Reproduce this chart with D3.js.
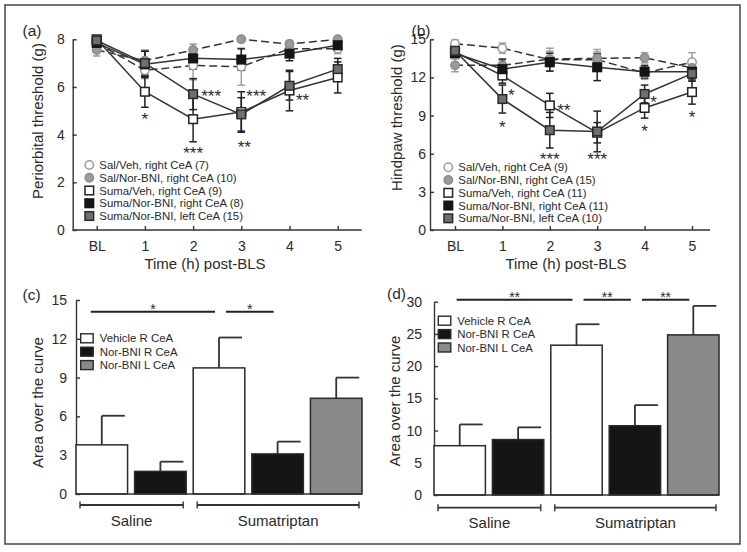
<!DOCTYPE html>
<html>
<head>
<meta charset="utf-8">
<title>Threshold and area over the curve</title>
<style>
  body { margin: 0; background: #fff; }
  svg text { font-family: "Liberation Sans", Arial, sans-serif; font-weight: normal; fill: #2a2a2a; }
</style>
<script src="https://d3js.org/d3.v7.min.js"></script>
</head>
<body>
<svg id="fig" width="747" height="552"></svg>
<script>

// ---- data ----
let timeLabels = ["BL", "1", "2", "3", "4", "5"];

// panel (a) periorbital threshold (g)
let salVehA     = [7.85, 6.7, 6.9, 6.85, 7.6, 7.6];
let salVehAErr  = [0.2, 0.35, 0.6, 0.78, 0.2, 0.2];
let salBniA     = [7.55, 7.1, 7.55, 8.0, 7.8, 8.0];
let salBniAErr  = [0.25, 0.45, 0.25, 0.05, 0.15, 0.08];
let sumaVehA    = [8.0, 5.8, 4.65, 4.95, 5.85, 6.4];
let sumaVehAErr = [0.1, 0.65, 0.95, 0.85, 0.85, 0.65];
let sumaBniRA   = [7.85, 6.95, 7.2, 7.15, 7.4, 7.75];
let sumaBniRAErr= [0.15, 0.55, 0.45, 0.45, 0.3, 0.2];
let sumaBniLA   = [7.95, 7.0, 5.7, 4.85, 6.05, 6.75];
let sumaBniLAErr= [0.1, 0.5, 0.65, 0.7, 0.6, 0.45];
let legendA = ["Sal/Veh, right CeA (7)", "Sal/Nor-BNI, right CeA (10)", "Suma/Veh, right CeA (9)",
               "Suma/Nor-BNI, right CeA (8)", "Suma/Nor-BNI, left CeA (15)"];
// stars: text, time index, level (g), horizontal shift
let starsA = [["*", 1, 4.82, 0], ["***", 2, 5.8, 18], ["***", 2, 3.4, 0],
              ["***", 3, 5.8, 15], ["**", 3, 3.66, 3], ["**", 4, 5.63, 13]];

// panel (b) hindpaw threshold (g)
let salVehB     = [14.65, 14.3, 13.4, 13.4, 12.35, 13.2];
let salVehBErr  = [0.3, 0.4, 0.9, 0.8, 0.5, 0.75];
let salBniB     = [12.95, 12.95, 13.45, 13.5, 13.55, 12.75];
let salBniBErr  = [0.5, 0.4, 0.6, 0.5, 0.4, 0.4];
let sumaVehB    = [14.0, 12.15, 9.8, 7.65, 9.6, 10.85];
let sumaVehBErr = [0.2, 0.6, 0.95, 0.8, 0.8, 0.95];
let sumaBniRB   = [13.9, 12.65, 13.2, 12.8, 12.45, 12.45];
let sumaBniRBErr= [0.2, 0.8, 0.7, 1.05, 0.5, 0.5];
let sumaBniLB   = [14.1, 10.3, 7.85, 7.75, 10.7, 12.3];
let sumaBniLBErr= [0.2, 1.1, 1.4, 1.6, 0.7, 0.6];
let legendB = ["Sal/Veh, right CeA (9)", "Sal/Nor-BNI, right CeA (15)", "Suma/Veh, right CeA (11)",
               "Suma/Nor-BNI, right CeA (11)", "Suma/Nor-BNI, left CeA (10)"];
let starsB = [["*", 1, 10.96, 9], ["*", 1, 8.44, 0], ["**", 2, 9.76, 14], ["***", 2, 5.85, 0],
              ["***", 3, 5.85, 0], ["*", 4, 10.36, 9], ["*", 4, 8.08, 0], ["*", 5, 9.18, 0]];

// panels (c) and (d) area over the curve
let barKeys = ["Sal-Veh", "Sal-BNI-R", "Suma-Veh", "Suma-BNI-R", "Suma-BNI-L"];
let barTreat = [0, 1, 0, 1, 2];
let treatLabels = ["Vehicle R CeA", "Nor-BNI R CeA", "Nor-BNI L CeA"];
let groupLabels = ["Saline", "Sumatriptan"];
let groupSpans = [[0, 1], [2, 4]];
let aocC    = [3.8, 1.75, 9.75, 3.1, 7.4];
let aocCErr = [2.25, 0.75, 2.35, 0.95, 1.6];
let aocD    = [7.65, 8.6, 23.25, 10.75, 24.85];
let aocDErr = [3.3, 1.9, 3.25, 3.2, 4.5];
// significance bars: from bar, to bar, text
let sigC = [[0, 2, "*"], [2, 3, "*"]];
let sigD = [[0, 2, "**"], [2, 3, "**"], [3, 4, "**"]];

// ---- styling ----
let seriesStyle = [
    {shape: "circle", fill: "#fff",    stroke: "#9a9a9a", err: "#a0a0a0", dash: "8,4"},
    {shape: "circle", fill: "#9a9a9a", stroke: "#8a8a8a", err: "#9a9a9a", dash: "8,4"},
    {shape: "square", fill: "#fff",    stroke: "#222",    err: "#222",    dash: null},
    {shape: "square", fill: "#151515", stroke: "#151515", err: "#222",    dash: null},
    {shape: "square", fill: "#6e6e6e", stroke: "#2a2a2a", err: "#222",    dash: null}
];
let barFill = ["#fff", "#151515", "#8a8a8a"];

let svg = d3.select("#fig");

svg.append("rect")
    .attr("x", 5).attr("y", 5).attr("width", 735).attr("height", 539)
    .attr("fill", "none").attr("stroke", "#444").attr("stroke-width", 1.5);

function styleAxis(a, size) {
    a.attr("font-family", null).attr("font-size", null).attr("color", "#333");
    a.selectAll("line, path").attr("stroke-width", 1.4);
    a.selectAll("text").style("font-size", size + "px");
}

function drawMarker(g, st, cx, cy) {
    if (st.shape === "circle") {
        g.append("circle").attr("cx", cx).attr("cy", cy).attr("r", 4.2)
            .attr("fill", st.fill).attr("stroke", st.stroke).attr("stroke-width", 1.5);
    } else {
        g.append("rect").attr("x", cx - 4.3).attr("y", cy - 4.3).attr("width", 8.6).attr("height", 8.6)
            .attr("fill", st.fill).attr("stroke", st.stroke).attr("stroke-width", 1.5);
    }
}

function linePanel(cfg) {
    let x = d3.scalePoint().domain(timeLabels).range(cfg.xr);
    let y = d3.scaleLinear().domain([0, cfg.ymax]).range([230, 39.3]);
    let g = svg.append("g");

    g.append("line")
        .attr("x1", cfg.ax).attr("x2", cfg.axEnd).attr("y1", y(0)).attr("y2", y(0))
        .attr("stroke", "#333").attr("stroke-width", 1.4);
    g.append("g")
        .attr("transform", `translate(0,${y(0)})`)
        .call(d3.axisBottom(x).tickSize(-4).tickPadding(11))
        .call(a => a.select(".domain").remove())
        .call(a => styleAxis(a, 14));
    g.append("g")
        .attr("transform", `translate(${cfg.ax},0)`)
        .call(d3.axisLeft(y).tickValues(cfg.yticks).tickSize(-4).tickSizeOuter(0).tickPadding(cfg.pad))
        .call(a => styleAxis(a, 14));

    let line = d3.line().x((d, i) => x(timeLabels[i])).y(d => y(d));

    // error bars
    cfg.series.forEach((s, k) => {
        let st = seriesStyle[k];
        s.vals.forEach((v, i) => {
            let cx = x(timeLabels[i]), lo = y(v - s.err[i]), hi = y(v + s.err[i]);
            g.append("line").attr("x1", cx).attr("x2", cx).attr("y1", lo).attr("y2", hi)
                .attr("stroke", st.err).attr("stroke-width", 1.5);
            [lo, hi].forEach(yy => g.append("line")
                .attr("x1", cx - 3.8).attr("x2", cx + 3.8).attr("y1", yy).attr("y2", yy)
                .attr("stroke", st.err).attr("stroke-width", 1.5));
        });
    });

    // connecting lines
    cfg.series.forEach((s, k) => {
        g.append("path").datum(s.vals)
            .attr("d", line)
            .attr("fill", "none")
            .attr("stroke", "#333")
            .attr("stroke-width", 1.5)
            .attr("stroke-dasharray", seriesStyle[k].dash);
    });

    // markers
    cfg.series.forEach((s, k) => {
        s.vals.forEach((v, i) => drawMarker(g, seriesStyle[k], x(timeLabels[i]), y(v)));
    });

    // stars
    cfg.stars.forEach(s => {
        g.append("text")
            .attr("x", x(timeLabels[s[1]]) + s[3])
            .attr("y", y(s[2]))
            .attr("dy", "0.58em")
            .attr("text-anchor", "middle")
            .style("font-size", "17px")
            .text(s[0]);
    });

    // legend
    cfg.legend.forEach((t, k) => {
        let ly = cfg.legY + k * 12.75;
        drawMarker(g, seriesStyle[k], cfg.legX, ly);
        g.append("text").attr("x", cfg.legX + 10).attr("y", ly).attr("dy", "0.36em")
            .style("font-size", "11.4px").text(t);
    });

    // titles
    g.append("text")
        .attr("transform", `translate(${cfg.ytX},${cfg.ytY}) rotate(-90)`)
        .attr("text-anchor", "middle").attr("dy", "0.35em")
        .style("font-size", "15px").text(cfg.ytitle);
    g.append("text")
        .attr("x", cfg.xtX).attr("y", 269)
        .attr("text-anchor", "middle")
        .style("font-size", "15px").text("Time (h) post-BLS");
    g.append("text")
        .attr("x", cfg.tagX).attr("y", 36)
        .style("font-size", "15.5px").text(cfg.tag);
}

function barPanel(cfg) {
    let x = d3.scaleBand().domain(barKeys).range(cfg.xr).paddingInner(0.12).paddingOuter(0);
    let y = d3.scaleLinear().domain([0, cfg.ymax]).range([cfg.y0, cfg.ytop]);
    let bw = x.bandwidth();
    let g = svg.append("g");

    g.append("g")
        .attr("transform", `translate(${cfg.xr[0]},0)`)
        .call(d3.axisLeft(y).tickValues(cfg.yticks).tickSize(-4).tickSizeOuter(0).tickPadding(cfg.pad))
        .call(a => styleAxis(a, 14));

    // error whiskers (upper only, half cap to the right)
    cfg.vals.forEach((v, i) => {
        let cx = x(barKeys[i]) + bw / 2, top = y(v + cfg.err[i]);
        g.append("line").attr("x1", cx).attr("x2", cx).attr("y1", y(v)).attr("y2", top)
            .attr("stroke", "#333").attr("stroke-width", 1.8);
        g.append("line").attr("x1", cx).attr("x2", cx + 23).attr("y1", top).attr("y2", top)
            .attr("stroke", "#333").attr("stroke-width", 1.8);
    });

    g.selectAll("rect.bar")
        .data(cfg.vals)
        .join("rect")
        .attr("class", "bar")
        .attr("x", (d, i) => x(barKeys[i]))
        .attr("y", d => y(d))
        .attr("width", bw)
        .attr("height", d => y(0) - y(d))
        .attr("fill", (d, i) => barFill[barTreat[i]])
        .attr("stroke", "#2a2a2a")
        .attr("stroke-width", 1.5);

    g.append("line")
        .attr("x1", cfg.xr[0]).attr("x2", cfg.xr[1]).attr("y1", y(0)).attr("y2", y(0))
        .attr("stroke", "#333").attr("stroke-width", 1.4);

    // group brackets
    groupSpans.forEach((sp, k) => {
        let x1 = x(barKeys[sp[0]]) + 4, x2 = x(barKeys[sp[1]]) + bw - 3, by = y(0) + cfg.brk;
        g.append("line").attr("x1", x1).attr("x2", x2).attr("y1", by).attr("y2", by)
            .attr("stroke", "#333").attr("stroke-width", 1.8);
        [x1, x2].forEach(xx => g.append("line")
            .attr("x1", xx).attr("x2", xx).attr("y1", by - 3.5).attr("y2", by + 3.5)
            .attr("stroke", "#333").attr("stroke-width", 1.4));
        g.append("text")
            .attr("x", (x1 + x2) / 2).attr("y", y(0) + cfg.grpY)
            .attr("text-anchor", "middle")
            .style("font-size", "15px").text(groupLabels[k]);
    });

    // significance
    cfg.sig.forEach(s => {
        let x1 = x(barKeys[s[0]]) + bw / 2 + (s[0] === 0 ? cfg.firstShift : 7);
        let x2 = x(barKeys[s[1]]) + bw / 2 - 4;
        let sy = y(cfg.sigLevel);
        g.append("line").attr("x1", x1).attr("x2", x2).attr("y1", sy).attr("y2", sy)
            .attr("stroke", "#222").attr("stroke-width", 2);
        g.append("text").attr("x", (x1 + x2) / 2).attr("y", sy + 2.5)
            .attr("text-anchor", "middle").style("font-size", "14px").text(s[2]);
    });

    // legend
    treatLabels.forEach((t, k) => {
        let ly = cfg.legY + k * 13.4;
        g.append("rect").attr("x", cfg.legX).attr("y", ly - 4.5).attr("width", 12.5).attr("height", 9)
            .attr("fill", barFill[k]).attr("stroke", "#2a2a2a").attr("stroke-width", 1.4);
        g.append("text").attr("x", cfg.legX + 19).attr("y", ly).attr("dy", "0.36em")
            .style("font-size", "11.4px").text(t);
    });

    g.append("text")
        .attr("transform", `translate(${cfg.ytX},${cfg.ytY}) rotate(-90)`)
        .attr("text-anchor", "middle").attr("dy", "0.35em")
        .style("font-size", "15px").text("Area over the curve");
    g.append("text")
        .attr("x", cfg.tagX).attr("y", cfg.tagY)
        .style("font-size", "15.5px").text(cfg.tag);
}

linePanel({
    tag: "(a)", tagX: 22.5, xr: [96.7, 337.7], ax: 72.7, axEnd: 361.7,
    ymax: 8, yticks: [0, 2, 4, 6, 8], pad: 8,
    series: [
        {vals: salVehA, err: salVehAErr}, {vals: salBniA, err: salBniAErr},
        {vals: sumaVehA, err: sumaVehAErr}, {vals: sumaBniRA, err: sumaBniRAErr},
        {vals: sumaBniLA, err: sumaBniLAErr}
    ],
    stars: starsA, legend: legendA, legX: 89.3, legY: 165,
    ytitle: "Periorbital threshold (g)", ytX: 38, ytY: 121, xtX: 205
});

linePanel({
    tag: "(b)", tagX: 411.5, xr: [455, 692], ax: 430, axEnd: 710,
    ymax: 15, yticks: [0, 3, 6, 9, 12, 15], pad: 4,
    series: [
        {vals: salVehB, err: salVehBErr}, {vals: salBniB, err: salBniBErr},
        {vals: sumaVehB, err: sumaVehBErr}, {vals: sumaBniRB, err: sumaBniRBErr},
        {vals: sumaBniLB, err: sumaBniLBErr}
    ],
    stars: starsB, legend: legendB, legX: 448.3, legY: 167.3,
    ytitle: "Hindpaw threshold (g)", ytX: 397, ytY: 117.5, xtX: 566
});

barPanel({
    tag: "(c)", tagX: 22.5, tagY: 300, xr: [76, 362], y0: 494, ytop: 300,
    ymax: 15, yticks: [0, 3, 6, 9, 12, 15], pad: 9,
    vals: aocC, err: aocCErr, sig: sigC, sigLevel: 14.1, firstShift: -11,
    brk: 11, grpY: 32, legX: 80.7, legY: 338.3,
    ytX: 38, ytY: 402.5
});

barPanel({
    tag: "(d)", tagX: 387, tagY: 298.5, xr: [434, 719], y0: 495, ytop: 301.7,
    ymax: 30, yticks: [0, 5, 10, 15, 20, 25, 30], pad: 12,
    vals: aocD, err: aocDErr, sig: sigD, sigLevel: 30.3, firstShift: -3,
    brk: 12.7, grpY: 33, legX: 438.3, legY: 320.7,
    ytX: 395, ytY: 401
});

</script>
</body>
</html>
